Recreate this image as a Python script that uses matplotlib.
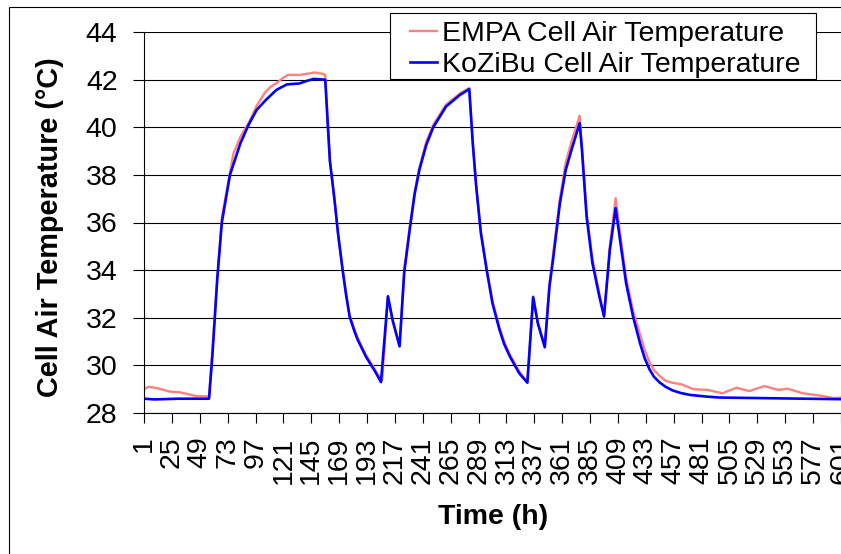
"""
Cell air temperature comparison: EMPA measurement vs KoZiBu simulation
Usage: python plot.py
"""

import matplotlib
matplotlib.use("Agg")
import matplotlib.pyplot as plt
from matplotlib.patches import Rectangle

# Configuration
OUT_PATH = "out.png"
FIG_W, FIG_H, DPI = 841, 554, 100
FONT = "Liberation Sans"

# EMPA measured cell air temperature (hour, degC)
empa_hours = [1, 5, 12, 23, 32, 46, 55, 57,
              65, 68, 78, 84, 91, 98, 105, 110, 115, 120,
              125, 130, 135, 142, 148, 155, 157, 161, 165, 168,
              172, 175, 178, 182, 185, 192, 200, 206, 211, 215, 221, 225,
              230, 234, 238, 244, 250, 261, 273, 281, 284, 287,
              291, 296, 301, 307, 311, 316, 324, 331, 336, 340, 346,
              350, 353, 359, 364, 369, 376, 378, 382, 387, 393,
              397, 402, 407, 412, 416, 422, 428, 432, 436, 440, 445, 450, 456,
              464, 474, 486, 499, 511, 522, 535, 547, 555, 568,
              583, 595, 601]
empa_temp = [29.0, 29.1, 29.05, 28.9, 28.87, 28.71, 28.7, 28.7,
             34.2, 36.2, 38.9, 39.6, 40.17, 40.9, 41.45, 41.7, 41.85, 42.05,
             42.2, 42.2, 42.2, 42.25, 42.3, 42.24, 42.2, 38.6, 36.95, 35.55,
             34.0, 33.0, 32.1, 31.55, 31.15, 30.45, 29.8, 29.35, 32.9, 31.9, 30.8, 34.0,
             35.9, 37.3, 38.3, 39.4, 40.1, 40.95, 41.42, 41.65, 39.4, 37.5,
             35.6, 34.05, 32.7, 31.6, 31.0, 30.45, 29.75, 29.3, 32.9, 31.8, 30.8,
             33.4, 34.6, 37.0, 38.5, 39.4, 40.48, 39.2, 36.4, 34.5, 33.0,
             32.1, 35.0, 37.02, 35.1, 33.7, 32.3, 31.3, 30.65, 30.15, 29.8, 29.55, 29.35, 29.27,
             29.2, 29.0, 28.97, 28.83, 29.06, 28.92, 29.13, 28.97, 29.02, 28.83,
             28.73, 28.62, 28.65]

# KoZiBu simulated cell air temperature (hour, degC)
kozibu_hours = [1, 10, 30, 57, 60, 64, 68, 75, 84, 91,
                98, 106, 115, 124, 135, 140, 147, 157, 161, 165,
                168, 172, 175, 178, 182, 185, 192, 200, 205, 211, 215, 221,
                225, 230, 234, 238, 244, 250, 261, 273, 281, 284,
                287, 291, 296, 301, 307, 311, 316, 324, 331, 336, 340,
                346, 350, 353, 359, 364, 369, 376, 378, 382, 387,
                393, 397, 402, 407, 412, 416, 422, 428, 432, 436, 440, 445,
                450, 456, 463, 471, 485, 496, 540, 601]
kozibu_temp = [28.6, 28.57, 28.6, 28.6, 30.5, 33.6, 36.0, 38.0, 39.33, 40.1,
               40.73, 41.15, 41.57, 41.8, 41.84, 41.93, 42.03, 42.0, 38.6, 36.95,
               35.55, 34.0, 32.95, 32.05, 31.45, 31.07, 30.37, 29.74, 29.3, 32.9, 31.9, 30.8,
               33.9, 35.8, 37.2, 38.2, 39.26, 40.0, 40.87, 41.36, 41.6, 39.33,
               37.5, 35.56, 34.0, 32.6, 31.5, 30.9, 30.37, 29.67, 29.27, 32.86, 31.77,
               30.76, 33.3, 34.4, 36.8, 38.2, 39.05, 40.17, 39.05, 36.25, 34.3,
               32.89, 32.05, 34.85, 36.6, 34.85, 33.45, 32.05, 30.93, 30.3, 29.85, 29.52, 29.28,
               29.1, 28.95, 28.84, 28.76, 28.69, 28.65, 28.62, 28.58]

x_ticks = list(range(1, 602, 24))
y_ticks = list(range(28, 45, 2))


def px(x, y):
    """Pixel position (from top-left) -> figure fraction"""
    return x / FIG_W, 1 - y / FIG_H


def main():
    plt.rcParams["font.family"] = [FONT, "DejaVu Sans"]

    fig = plt.figure(figsize=(FIG_W / DPI, FIG_H / DPI), dpi=DPI)

    # chart area border (runs off the right and bottom of the picture)
    bx, by = px(9, 7)
    fig.patches.append(Rectangle((bx, -0.2), 2.0, by + 0.2, transform=fig.transFigure,
                                 fill=False, edgecolor="black", lw=0.8))

    left, top = px(144, 32)
    _, bottom = px(0, 413)
    ax = fig.add_axes([left, bottom, 1.0 - left, top - bottom])

    l1, = ax.plot(empa_hours, empa_temp, color="#ff8080", lw=1.7,
                  label="EMPA Cell Air Temperature")
    l2, = ax.plot(kozibu_hours, kozibu_temp, color="#0000ff", lw=1.9,
                  label="KoZiBu Cell Air Temperature")

    ax.set_xlim(1, 601)
    ax.set_ylim(28, 44)
    ax.set_xticks(x_ticks)
    ax.set_xticklabels([str(t) for t in x_ticks], rotation=90)
    ax.set_yticks(y_ticks)
    ax.tick_params(axis="both", labelsize=20.5, direction="out", width=0.8)
    ax.tick_params(axis="x", length=7, pad=10)
    ax.tick_params(axis="y", length=8, pad=11)

    ax.yaxis.grid(True, color="black", lw=0.8)
    ax.set_axisbelow(True)
    for side in ("top", "right"):
        ax.spines[side].set_visible(False)
    for side in ("left", "bottom"):
        ax.spines[side].set_color("black")
        ax.spines[side].set_linewidth(0.8)

    fig.text(*px(50, 227), "Cell Air Temperature (°C)", rotation=90,
             ha="center", va="center", fontsize=20.8, fontweight="bold")
    fig.text(*px(493, 517), "Time (h)", ha="center", va="center",
             fontsize=20.5, fontweight="bold")

    # legend box drawn separately so its padding can match the reference
    lx0, ly0 = px(390, 79)
    lx1, ly1 = px(816, 13)
    fig.patches.append(Rectangle((lx0, ly0), lx1 - lx0, ly1 - ly0,
                                 transform=fig.transFigure, facecolor="white",
                                 edgecolor="black", lw=0.8, zorder=4))
    fig.legend(handles=[l1, l2], loc="upper left", bbox_to_anchor=px(404, 15),
               bbox_transform=fig.transFigure, fontsize=20.5, frameon=False,
               borderaxespad=0, borderpad=0.2, handlelength=0.95,
               handletextpad=0.2, labelspacing=0.2)

    fig.savefig(OUT_PATH, dpi=DPI)
    print(f"saved {OUT_PATH}")


if __name__ == "__main__":
    main()
